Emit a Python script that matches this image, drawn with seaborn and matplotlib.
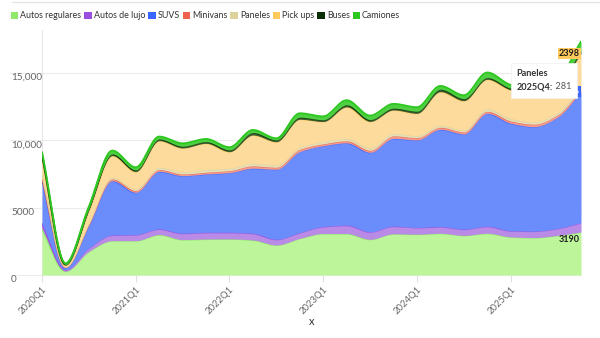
import numpy as np
import pandas as pd
import matplotlib
matplotlib.use("Agg")
import matplotlib.pyplot as plt
import seaborn as sns
from matplotlib.patches import Patch
from matplotlib.offsetbox import TextArea, HPacker, VPacker, AnnotationBbox

# ---------------- data ----------------
quarters = ["2020Q1", "2020Q2", "2020Q3", "2020Q4",
            "2021Q1", "2021Q2", "2021Q3", "2021Q4",
            "2022Q1", "2022Q2", "2022Q3", "2022Q4",
            "2023Q1", "2023Q2", "2023Q3", "2023Q4",
            "2024Q1", "2024Q2", "2024Q3", "2024Q4",
            "2025Q1", "2025Q2", "2025Q3", "2025Q4"]

series_names = ["Autos regulares", "Autos de lujo", "SUVS", "Minivans",
                "Paneles", "Pick ups", "Buses", "Camiones"]

autos_regulares = [3420, 280, 1750, 2550, 2550, 3000, 2630, 2670, 2680, 2600, 2230, 2720,
                   3080, 3080, 2650, 3060, 3030, 3100, 2940, 3100, 2830, 2780, 2940, 3190]
autos_lujo = [370, 120, 250, 420, 450, 420, 470, 500, 490, 500, 420, 430,
              520, 620, 560, 570, 500, 490, 460, 520, 460, 480, 520, 700]
suvs = [3340, 150, 1700, 4030, 3140, 4280, 4280, 4330, 4430, 4830, 5200, 6010,
        6000, 6110, 5900, 6520, 6500, 7230, 7080, 8390, 7980, 7760, 8260, 9726]
minivans = [130, 30, 80, 130, 130, 130, 120, 130, 150, 170, 150, 180,
            140, 150, 150, 180, 170, 150, 150, 150, 170, 180, 170, 150]
paneles = [240, 40, 100, 130, 120, 170, 180, 200, 180, 200, 170, 150,
           180, 180, 170, 200, 150, 150, 140, 200, 180, 170, 170, 281]
pick_ups = [1240, 120, 950, 1610, 1290, 1980, 1760, 1950, 1230, 2100, 1730, 2080,
            1480, 2350, 1980, 1730, 1660, 2500, 2180, 2180, 2130, 2100, 2040, 2398]
buses = [180, 40, 100, 120, 120, 120, 120, 120, 130, 180, 130, 150,
         130, 150, 130, 130, 150, 180, 150, 120, 120, 130, 130, 200]
camiones = [200, 80, 150, 250, 200, 180, 220, 200, 200, 190, 120, 290,
            250, 340, 300, 320, 300, 240, 250, 380, 250, 250, 250, 700]

y_ticks = [0, 5000, 10000, 15000]
y_tick_labels = ["0", "5000", "10,000", "15,000"]

# ---------------- style ----------------
line_colors = ["#8fe86b", "#9b4fe0", "#3a66ff", "#f0604f",
               "#dcd29c", "#ffc95c", "#0c2e07", "#2dc81f"]
fill_colors = ["#bdf59b", "#b98ae6", "#6b8dfc", "#f49a8c",
               "#e6dfb6", "#fddb9c", "#365c30", "#4fd043"]

sns.set_theme(style="white")
plt.rcParams["font.family"] = ["Lato", "DejaVu Sans"]

df = pd.DataFrame({"quarter": quarters})
for name, vals in zip(series_names, [autos_regulares, autos_lujo, suvs, minivans,
                                      paneles, pick_ups, buses, camiones]):
    df[name] = vals
df["pos"] = np.arange(len(df))


def monotone_curve(x, y, n=16):
    """Monotone cubic (Fritsch-Carlson) rendering of a polyline - presentation only."""
    x = np.asarray(x, float)
    y = np.asarray(y, float)
    h = np.diff(x)
    d = np.diff(y) / h
    m = np.zeros_like(y)
    m[0], m[-1] = d[0], d[-1]
    for k in range(1, len(y) - 1):
        if d[k - 1] * d[k] <= 0:
            m[k] = 0.0
        else:
            m[k] = 2.0 / (1.0 / d[k - 1] + 1.0 / d[k])
    xs, ys = [], []
    for k in range(len(x) - 1):
        t = np.linspace(0, 1, n, endpoint=(k == len(x) - 2))
        h00 = 2 * t**3 - 3 * t**2 + 1
        h10 = t**3 - 2 * t**2 + t
        h01 = -2 * t**3 + 3 * t**2
        h11 = t**3 - t**2
        xs.append(x[k] + t * h[k])
        ys.append(h00 * y[k] + h10 * h[k] * m[k] + h01 * y[k + 1] + h11 * h[k] * m[k + 1])
    return np.concatenate(xs), np.concatenate(ys)


fig = plt.figure(figsize=(6, 3.38), dpi=100)
ax_w = (581 - 42) / 600
ax = fig.add_axes([42 / 600, 63 / 338, ax_w, (275 - 30) / 338])

cum = np.zeros(len(df))
lower_curve = None
tops = {}
for i, name in enumerate(series_names):
    upper = cum + df[name].values
    xs, yu = monotone_curve(df["pos"], upper)
    yl = np.zeros_like(yu) if lower_curve is None else lower_curve
    ax.fill_between(xs, yl, yu, color=fill_colors[i], lw=0, zorder=2 + i)
    sns.lineplot(x=xs, y=yu, ax=ax, color=line_colors[i], lw=1.4, zorder=2.5 + i,
                 estimator=None, sort=False)
    lower_curve = yu
    tops[name] = upper
    cum = upper

ax.set_xlim(0, len(df) - 1)
ax.set_ylim(0, 18200)

# grid lines (extend left under the labels)
for yt in y_ticks:
    ax.axhline(yt, xmin=-0.06, xmax=1, color="#ececec", lw=0.8, zorder=0, clip_on=False)
ax.axvline(0, color="#e6e6e6", lw=0.8, zorder=1)

for s in ax.spines.values():
    s.set_visible(False)

# y tick labels: left-aligned, hanging just below their grid lines
ax.set_yticks(y_ticks)
ax.set_yticklabels([])
ax.tick_params(axis="y", length=0)
label_x = -(42 - 11) / 600 / ax_w
for yt, lab in zip(y_ticks, y_tick_labels):
    ax.text(label_x, yt, lab, transform=ax.get_yaxis_transform(), ha="left", va="top",
            color="#666666", fontsize=7.2)
# keep a small offset below the line
for t in ax.texts:
    t.set_y(t.get_position()[1])

xt = df["pos"].values[::4]
ax.set_xticks(xt)
ax.set_xticklabels(df["quarter"].values[::4], rotation=45, ha="right", va="top",
                   rotation_mode="anchor", color="#666666", fontsize=6.8)
ax.tick_params(axis="x", length=5, color="#e0e0e0", width=0.8, pad=2, bottom=True)
ax.set_xlabel("x", fontsize=8, color="#333333", labelpad=0)
ax.set_ylabel("")

# end labels
last = len(df) - 1
ax.annotate(f"{autos_regulares[-1]}", (last, tops["Autos regulares"][-1]),
            xytext=(-1, -5), textcoords="offset points", ha="right", va="center",
            fontsize=6.5, weight="bold", color="#1a1a1a", zorder=20, annotation_clip=False)
ax.annotate(f"{suvs[-1]}", (last, tops["SUVS"][-1]),
            xytext=(-1, 0), textcoords="offset points", ha="right", va="center",
            fontsize=6.5, weight="bold", color="white", zorder=20, annotation_clip=False,
            bbox=dict(boxstyle="square,pad=0.1", fc=line_colors[2], ec="none"))
ax.annotate(f"{pick_ups[-1]}", (last, tops["Pick ups"][-1]),
            xytext=(-1, 0), textcoords="offset points", ha="right", va="center",
            fontsize=6.5, weight="bold", color="#1a1a1a", zorder=20, annotation_clip=False,
            bbox=dict(boxstyle="square,pad=0.1", fc=line_colors[5], ec="none"))

# tooltip
t1 = TextArea("Paneles", textprops=dict(weight="bold", size=6.6, color="#333333"))
t2a = TextArea("2025Q4:", textprops=dict(weight="bold", size=6.6, color="#333333"))
t2b = TextArea(" " + str(paneles[-1]), textprops=dict(size=6.6, color="#555555"))
row = HPacker(children=[t2a, t2b], pad=0, sep=0)
vbox = VPacker(children=[t1, row], pad=0, sep=3, align="left")
ab = AnnotationBbox(vbox, (last, tops["Paneles"][-1]), xycoords="data",
                    xybox=(-7, 4), boxcoords="offset points", box_alignment=(1, 0.5),
                    frameon=True, pad=0.4,
                    bboxprops=dict(fc="white", ec="#f0f0f0", lw=0.5))
ab.set_zorder(30)
ax.add_artist(ab)

# legend
handles = [Patch(facecolor=c, edgecolor="none", label=n) for n, c in zip(series_names, line_colors)]
fig.legend(handles=handles, loc="center left", bbox_to_anchor=(0.018, 0.953), ncol=8,
           frameon=False, fontsize=6.4, handlelength=0.85, handleheight=0.85,
           handletextpad=0.2, columnspacing=0.35, borderpad=0, borderaxespad=0,
           labelcolor="#333333")

fig.add_artist(plt.Line2D([0.02, 1.0], [1 - 2 / 338, 1 - 2 / 338], color="#e4e4e4", lw=1))

fig.savefig("out.png", dpi=100)
